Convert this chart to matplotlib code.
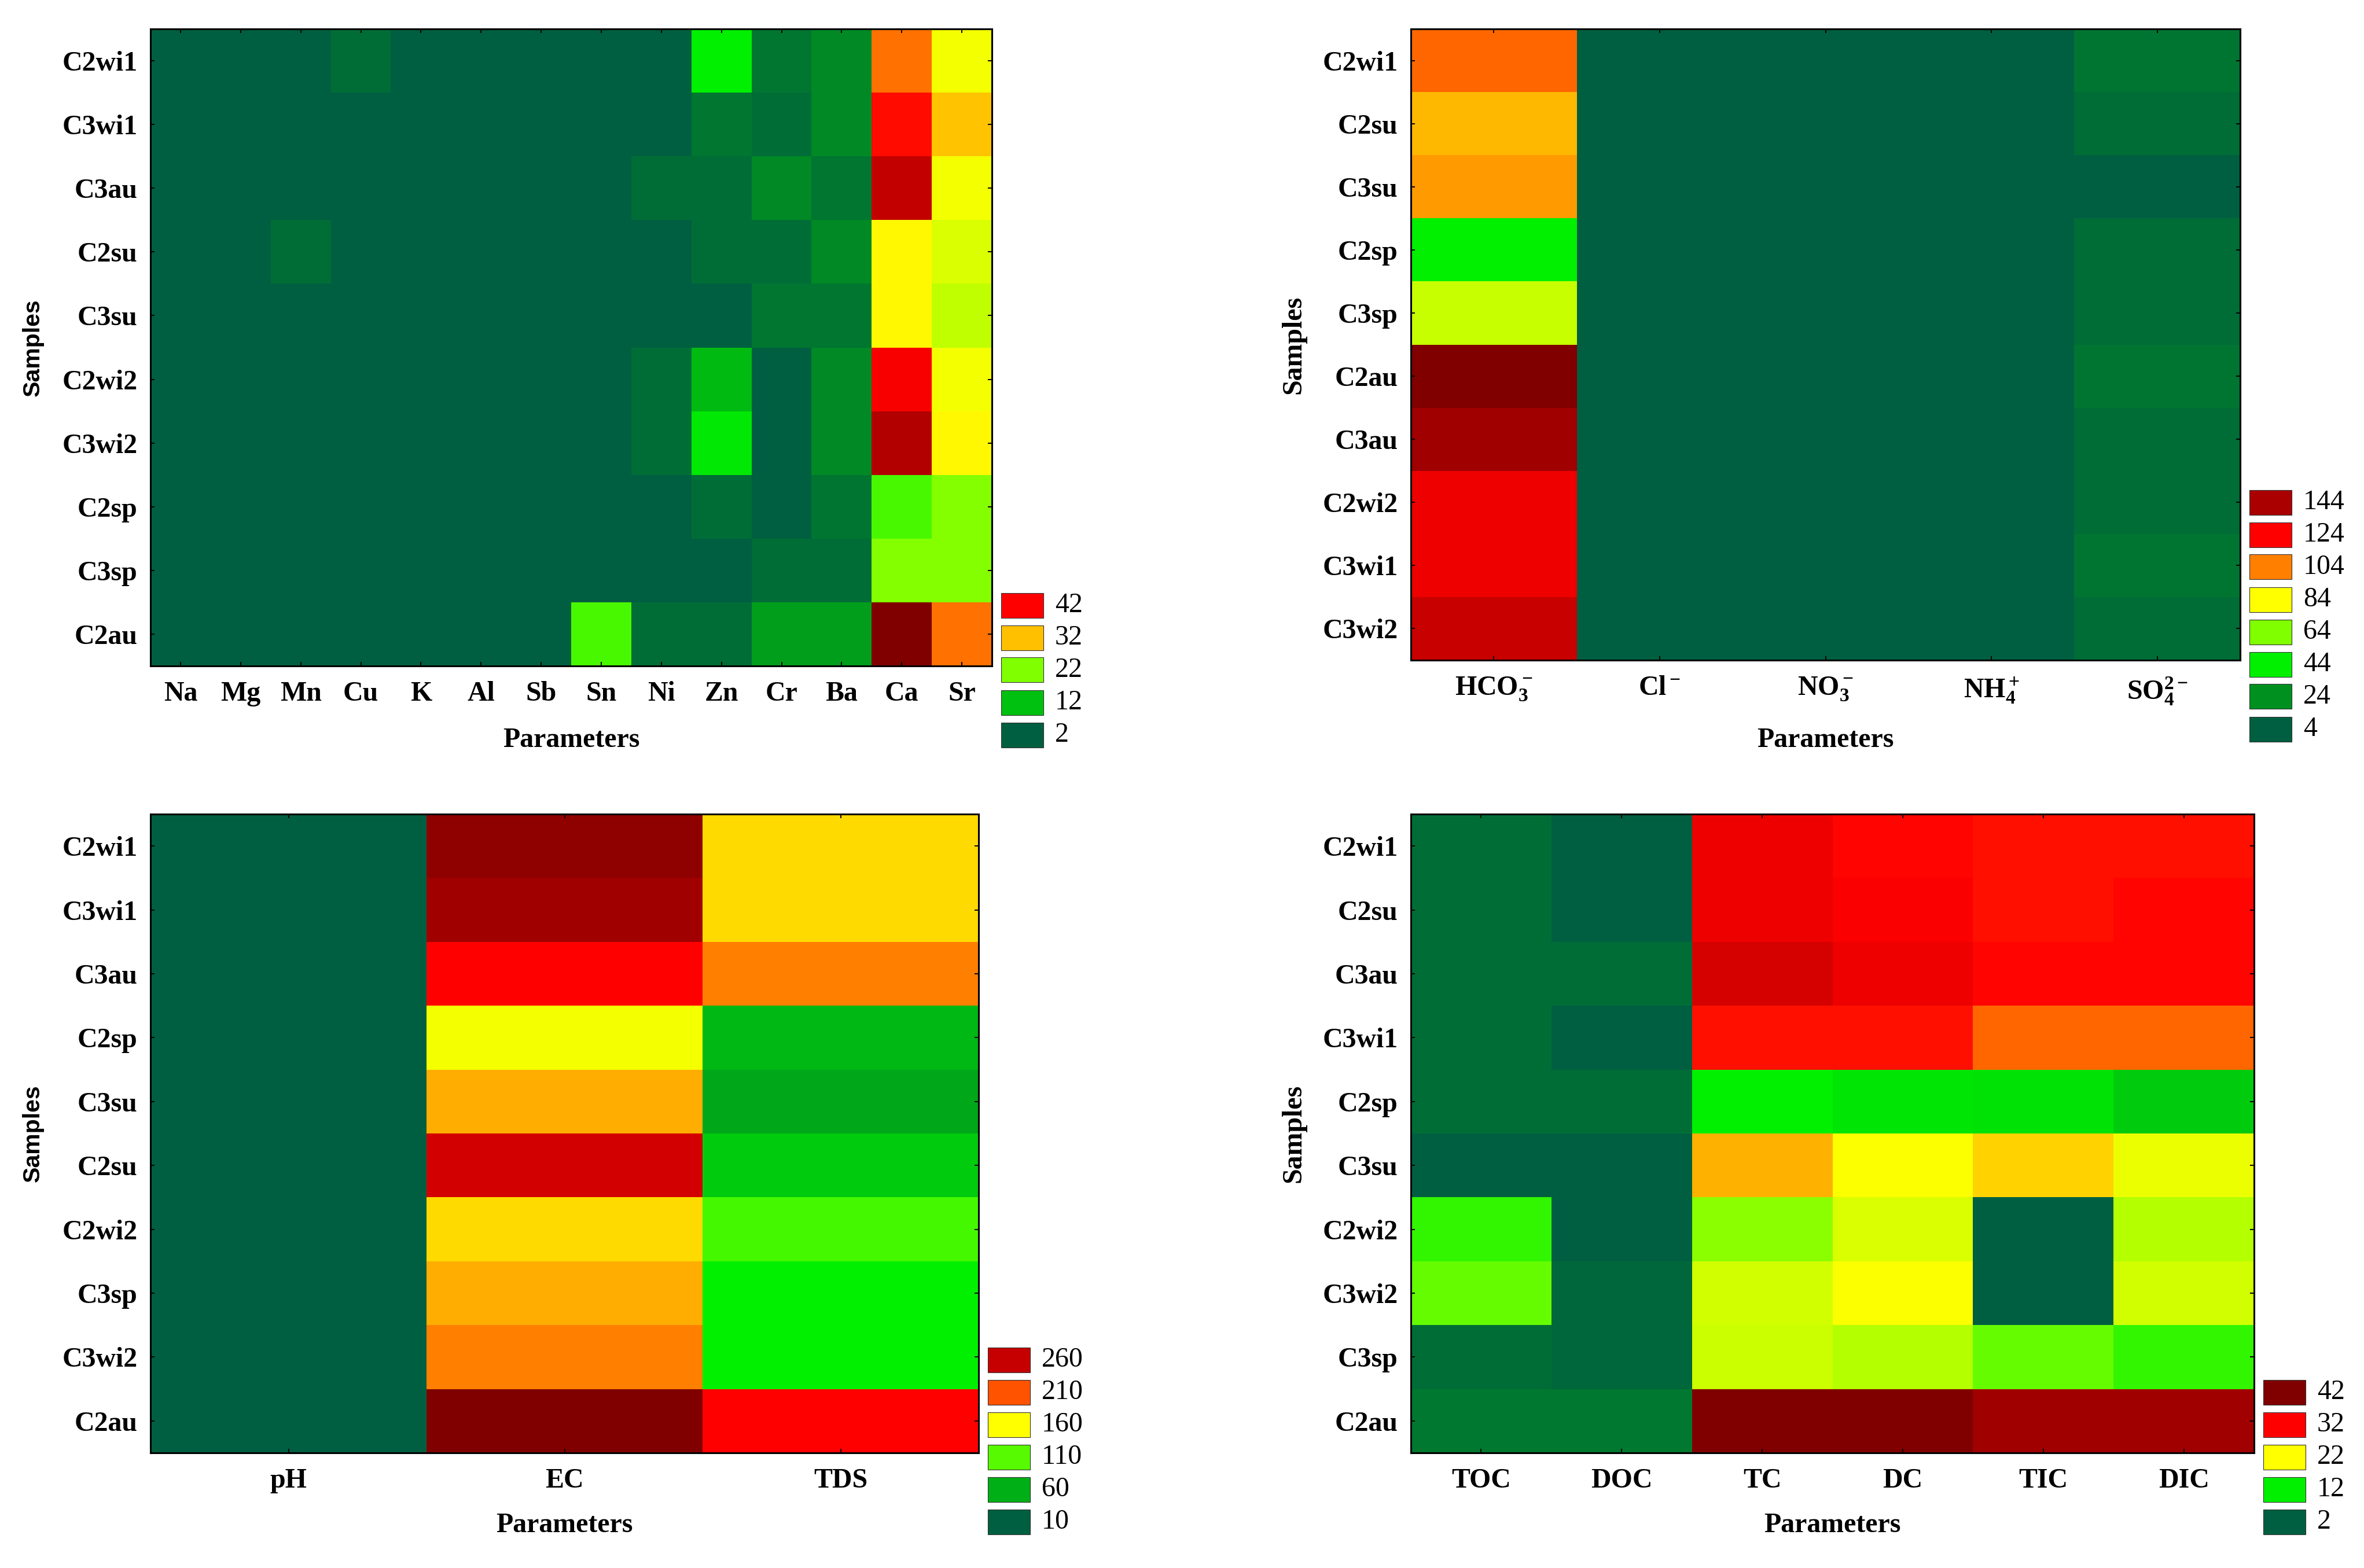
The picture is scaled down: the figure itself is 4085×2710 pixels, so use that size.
import numpy as np
import matplotlib
matplotlib.use('Agg')
import matplotlib.pyplot as plt
from matplotlib.colors import LinearSegmentedColormap, Normalize
from matplotlib.patches import Rectangle

plt.rcParams['mathtext.fontset'] = 'custom'
plt.rcParams['mathtext.rm'] = 'Liberation Serif:bold'
plt.rcParams['mathtext.it'] = 'Liberation Serif:bold'
plt.rcParams['mathtext.bf'] = 'Liberation Serif:bold'

# ---- panel 1: metals ----
metal_params = ['Na', 'Mg', 'Mn', 'Cu', 'K', 'Al', 'Sb', 'Sn', 'Ni', 'Zn', 'Cr', 'Ba', 'Ca', 'Sr']
metal_samples = ['C2wi1', 'C3wi1', 'C3au', 'C2su', 'C3su', 'C2wi2', 'C3wi2', 'C2sp', 'C3sp', 'C2au']
metal_vals = np.array([
    [1.2, 0.9, 0.3, 4.0, 0.8, 0.2, 0.1, 0.1, 0.5, 15.3, 5.3, 7.7, 36.0, 28.0],
    [1.3, 1.0, 0.4, 1.5, 0.9, 0.2, 0.1, 0.1, 0.6, 5.3, 4.0, 7.7, 41.3, 31.7],
    [1.1, 0.9, 0.3, 1.2, 0.8, 0.2, 0.1, 0.1, 4.0, 4.0, 7.7, 5.3, 46.7, 28.0],
    [1.2, 1.0, 4.0, 1.4, 0.9, 0.2, 0.1, 0.1, 0.6, 4.0, 4.0, 7.7, 29.0, 26.7],
    [1.1, 0.9, 0.3, 1.3, 0.8, 0.2, 0.1, 0.1, 0.5, 1.5, 5.3, 5.3, 29.0, 25.3],
    [1.2, 1.0, 0.4, 1.5, 0.9, 0.2, 0.1, 0.1, 4.0, 11.7, 1.0, 7.7, 42.5, 28.0],
    [1.3, 1.0, 0.4, 1.4, 0.9, 0.2, 0.1, 0.1, 4.0, 14.7, 1.0, 7.7, 48.0, 29.0],
    [1.1, 0.9, 0.3, 1.2, 0.8, 0.2, 0.1, 0.1, 0.6, 4.0, 1.0, 5.0, 19.0, 22.3],
    [1.0, 0.9, 0.3, 1.2, 0.8, 0.2, 0.1, 0.1, 0.5, 1.5, 4.0, 4.0, 22.3, 22.3],
    [1.2, 1.0, 0.4, 1.5, 0.9, 0.2, 0.1, 19.0, 4.0, 4.0, 9.8, 9.8, 52.0, 36.0]])
metal_levels = [2, 12, 22, 32, 42]
metal_vmax = 52.

# ---- panel 2: ions ----
ion_params = [r'HCO$_3^-$', r'Cl$^-$', r'NO$_3^-$', r'NH$_4^+$', r'SO$_4^{2-}$']
ion_samples = ['C2wi1', 'C2su', 'C3su', 'C2sp', 'C3sp', 'C2au', 'C3au', 'C2wi2', 'C3wi1', 'C3wi2']
ion_vals = np.array([
    [108., 2.6, 1.5, 0.3, 13.],
    [95., 2.4, 1.4, 0.3, 10.],
    [100., 2.5, 1.6, 0.2, 4.],
    [44., 2.2, 1.3, 0.3, 10.],
    [75., 2.3, 1.2, 0.2, 10.],
    [154., 2.7, 1.5, 0.4, 13.],
    [146., 2.6, 1.4, 0.3, 10.],
    [128., 2.5, 1.6, 0.3, 10.],
    [128., 2.4, 1.5, 0.2, 13.],
    [137., 2.5, 1.4, 0.3, 10.]])
ion_levels = [4, 24, 44, 64, 84, 104, 124, 144]
ion_vmax = 154.

# ---- panel 3: physico-chemical ----
phys_params = ['pH', 'EC', 'TDS']
phys_samples = ['C2wi1', 'C3wi1', 'C3au', 'C2sp', 'C3su', 'C2su', 'C2wi2', 'C3sp', 'C3wi2', 'C2au']
phys_vals = np.array([
    [7.8, 284., 171.],
    [7.9, 276., 171.],
    [7.7, 235., 197.],
    [8.0, 156., 63.],
    [7.8, 184., 57.],
    [7.6, 254., 71.],
    [7.9, 171., 105.],
    [8.1, 184., 85.],
    [7.8, 197., 85.],
    [7.5, 291., 235.]])
phys_levels = [10, 60, 110, 160, 210, 260]
phys_vmax = 291.

# ---- panel 4: carbon ----
carb_params = ['TOC', 'DOC', 'TC', 'DC', 'TIC', 'DIC']
carb_samples = ['C2wi1', 'C2su', 'C3au', 'C3wi1', 'C2sp', 'C3su', 'C2wi2', 'C3wi2', 'C3sp', 'C2au']
carb_vals = np.array([
    [3.5, 1.5, 33.0, 31.8, 31.3, 31.3],
    [3.5, 1.5, 33.0, 32.3, 31.3, 31.8],
    [3.5, 3.5, 34.5, 33.0, 31.8, 31.8],
    [3.5, 1.6, 31.3, 31.3, 28.0, 28.0],
    [3.5, 3.5, 12.0, 11.5, 11.3, 10.1],
    [1.8, 1.5, 25.0, 21.8, 23.8, 21.3],
    [14.0, 1.7, 17.5, 20.5, 1.2, 19.0],
    [16.0, 2.8, 20.3, 21.8, 1.8, 20.3],
    [3.5, 2.8, 20.0, 19.0, 16.0, 14.0],
    [4.5, 4.5, 39.5, 39.5, 37.5, 37.5]])
carb_levels = [2, 12, 22, 32, 42]
carb_vmax = 39.5

# green - yellow - red spectrum
nodes = np.array([0, 1, 2, 3, 4, 5, 6, 7.5]) / 7.5
cols = ['#005f40', '#009020', '#00f000', '#80ff00', '#ffff00', '#ff8000', '#ff0000', '#800000']
cmap = LinearSegmentedColormap.from_list('gyr', list(zip(nodes, cols)))

W, H = 4085., 2710.
fig = plt.figure(figsize=[W/100., H/100.], dpi=100)


def heat(box, vals, params, samples, levels, vmax, sfont, sx, py):
    left, top, right, bottom = box
    ax = fig.add_axes([left/W, 1-bottom/H, (right-left)/W, (bottom-top)/H])
    norm = Normalize(levels[0], vmax)
    ax.pcolormesh(np.arange(len(params)+1), np.arange(len(samples)+1), vals,
                  cmap=cmap, norm=norm, shading='flat', antialiased=False, linewidth=0)
    ax.set_xlim(0, len(params))
    ax.set_ylim(len(samples), 0)
    ax.set_xticks(np.arange(len(params))+0.5)
    ax.set_yticks(np.arange(len(samples))+0.5)
    ax.set_xticklabels(params, fontsize=34.5, fontweight='bold', family='Liberation Serif')
    ax.set_yticklabels(samples, fontsize=34.5, fontweight='bold', family='Liberation Serif')
    ax.tick_params(direction='in', length=5, width=1.4, top=True, right=True)
    ax.tick_params(axis='x', pad=19)
    ax.tick_params(axis='y', pad=16)
    for s in ax.spines.values():
        s.set_linewidth(2.2)

    ax.set_xlabel('Parameters', fontsize=34.5, fontweight='bold', family='Liberation Serif', va='center')
    ax.xaxis.set_label_coords(0.5, (bottom-py)/(bottom-top))
    if sfont == 'sans':
        ax.set_ylabel('Samples', fontsize=29.5, fontweight='bold', family='Liberation Sans', va='center')
    else:
        ax.set_ylabel('Samples', fontsize=34.5, fontweight='bold', family='Liberation Serif', va='center')
    ax.yaxis.set_label_coords((sx-left)/(right-left), 0.5)

    # stepped legend
    x0 = right + 16
    ybase = bottom + 119
    for i, lv in enumerate(levels):
        yc = ybase - 56*i
        fig.add_artist(Rectangle((x0/W, 1-(yc+21.5)/H), 73./W, 43./H, transform=fig.transFigure,
                                 facecolor=cmap(norm(lv)), edgecolor='#333333', lw=0.8))
        fig.text((x0+93)/W, 1-yc/H, str(lv), fontsize=34.5, family='Liberation Serif',
                 ha='left', va='center')
    return ax


heat((260, 50, 1714, 1151), metal_vals, metal_params, metal_samples, metal_levels, metal_vmax, 'sans', 57, 1279)
heat((2438, 50, 3871, 1141), ion_vals, ion_params, ion_samples, ion_levels, ion_vmax, 'serif', 2235, 1279)
heat((260, 1407, 1691, 2511), phys_vals, phys_params, phys_samples, phys_levels, phys_vmax, 'sans', 57, 2636)
heat((2438, 1407, 3895, 2511), carb_vals, carb_params, carb_samples, carb_levels, carb_vmax, 'serif', 2235, 2636)

plt.savefig('out.png', dpi=100)
